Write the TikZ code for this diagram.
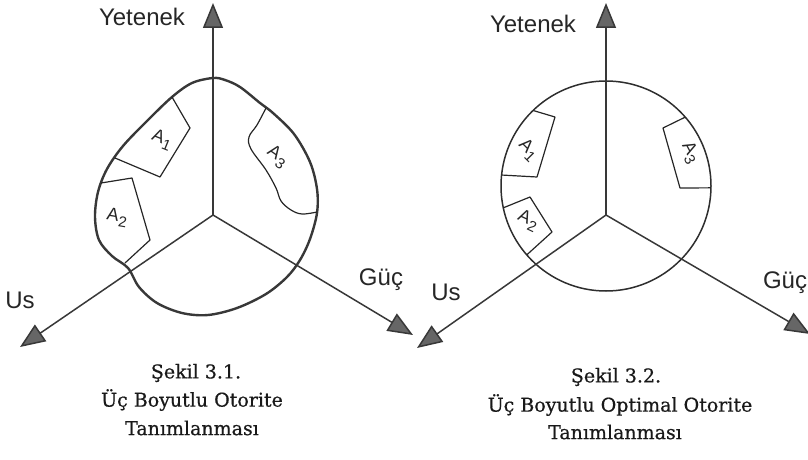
\documentclass[tikz,border=0pt]{standalone}
\usepackage{fontspec}
\setmainfont{DejaVu Serif}
\newfontfamily\capfont[FakeBold=0.6]{DejaVu Serif}
\newfontfamily\labfont{Liberation Sans}
\usetikzlibrary{arrows.meta,calc}
\newcommand{\sublab}[1]{A\kern0.5pt\raisebox{-5pt}{\fontsize{15}{15}\selectfont #1}}
\begin{document}
\begin{tikzpicture}[x=1pt,y=-1pt,
  axis/.style={draw=black!78, line width=1.5pt, -{Triangle[length=25pt,width=20pt,fill=black!60]}},
  blob/.style={draw=black!78, line width=2.4pt},
  ring/.style={draw=black!82, line width=1.5pt},
  part/.style={draw=black!85, line width=1.2pt, line join=round},
  axlab/.style={font=\labfont\fontsize{24}{26}\selectfont, text=black!85},
  alab/.style={font=\labfont\fontsize{18}{18}\selectfont, text=black!85, inner sep=0pt},
  captext/.style={font=\capfont\fontsize{19}{22}\selectfont, text=black!90, inner sep=0pt}]
\useasboundingbox (0,0) rectangle (808,460);

% ---------------- left figure ----------------
\coordinate (O1) at (213,215);
\coordinate (Y1) at (213,3);
\coordinate (U1) at (20,347);
\coordinate (G1) at (413,335);

\draw[blob] plot[smooth cycle, tension=0.55] coordinates {
  (213,78) (192,83) (172,97) (147,121) (123,146) (107,169) (98,192) (95,217)
  (99,240) (112,256) (128,268) (139,287) (157,303) (182,313) (208,315)
  (237,308) (266,294) (287,277) (300,260) (310,239) (317,213) (317,189)
  (310,162) (294,134) (273,113) (260,103) (240,87) (225,80)};

\coordinate (a1a) at (172,97);
\coordinate (a1b) at (190,128);
\coordinate (a1c) at (160,177);
\coordinate (a1d) at (115,158);
\draw[part] (a1a) -- (a1b) -- (a1c) -- (a1d);

\coordinate (a2a) at (101,183);
\coordinate (a2b) at (132,178);
\coordinate (a2c) at (150,240);
\coordinate (a2d) at (125,263);
\draw[part] (a2a) -- (a2b) -- (a2c) -- (a2d);

\draw[part] plot[smooth, tension=0.6] coordinates {
  (266,108) (257,125) (249,137) (251,149) (266,170) (276,188) (281,201)
  (291,210) (302,214) (317,212)};

\node[alab, rotate=-22] (lA1) at (162,140) {\sublab{1}};
\node[alab, rotate=-10] (lA2) at (117,218) {\sublab{2}};
\node[alab, rotate=-35] (lA3) at (277,157) {\sublab{3}};

\draw[axis] (O1) -- (Y1);
\draw[axis] (O1) -- (U1);
\draw[axis] (O1) -- (G1);

\node[axlab] (yl1) at (142,17) {Yetenek};
\node[axlab] (ul1) at (20,300) {Us};
\node[axlab] (gl1) at (381,280) {Güç};

\node[captext] (c11) at (196,373) {Şekil 3.1.};
\node[captext] (c12) at (192,400) {Üç Boyutlu Otorite};
\node[captext] (c13) at (192,428) {Tanımlanması};

% ---------------- right figure ----------------
\coordinate (O2) at (606,215);
\coordinate (Y2) at (606,3);
\coordinate (U2) at (417,348);
\coordinate (G2) at (810,334);
\coordinate (C) at (606,186);

\draw[ring] (C) circle[radius=105];

\draw[part] ($(C)+(134:105pt)$) -- (555,117) -- (537,177) -- ($(C)+(174:105pt)$);
\draw[part] ($(C)+(192:105pt)$) -- (530,197) -- (552,232) -- ($(C)+(221:105pt)$);
\draw[part] ($(C)+(41:105pt)$) -- (663,128) -- (680,188) -- ($(C)+(359:105pt)$);

\node[alab, rotate=-45] (rA1) at (528,150) {\sublab{1}};
\node[alab, rotate=-25] (rA2) at (528,221) {\sublab{2}};
\node[alab, rotate=-62] (rA3) at (690,153) {\sublab{3}};

\draw[axis] (O2) -- (Y2);
\draw[axis] (O2) -- (U2);
\draw[axis] (O2) -- (G2);

\node[axlab] (yl2) at (533,24) {Yetenek};
\node[axlab] (ul2) at (446,292) {Us};
\node[axlab] (gl2) at (785,283) {Güç};

\node[captext] (c21) at (616,377) {Şekil 3.2.};
\node[captext] (c22) at (620,405) {Üç Boyutlu Optimal Otorite};
\node[captext] (c23) at (615,432) {Tanımlanması};
\end{tikzpicture}
\end{document}
